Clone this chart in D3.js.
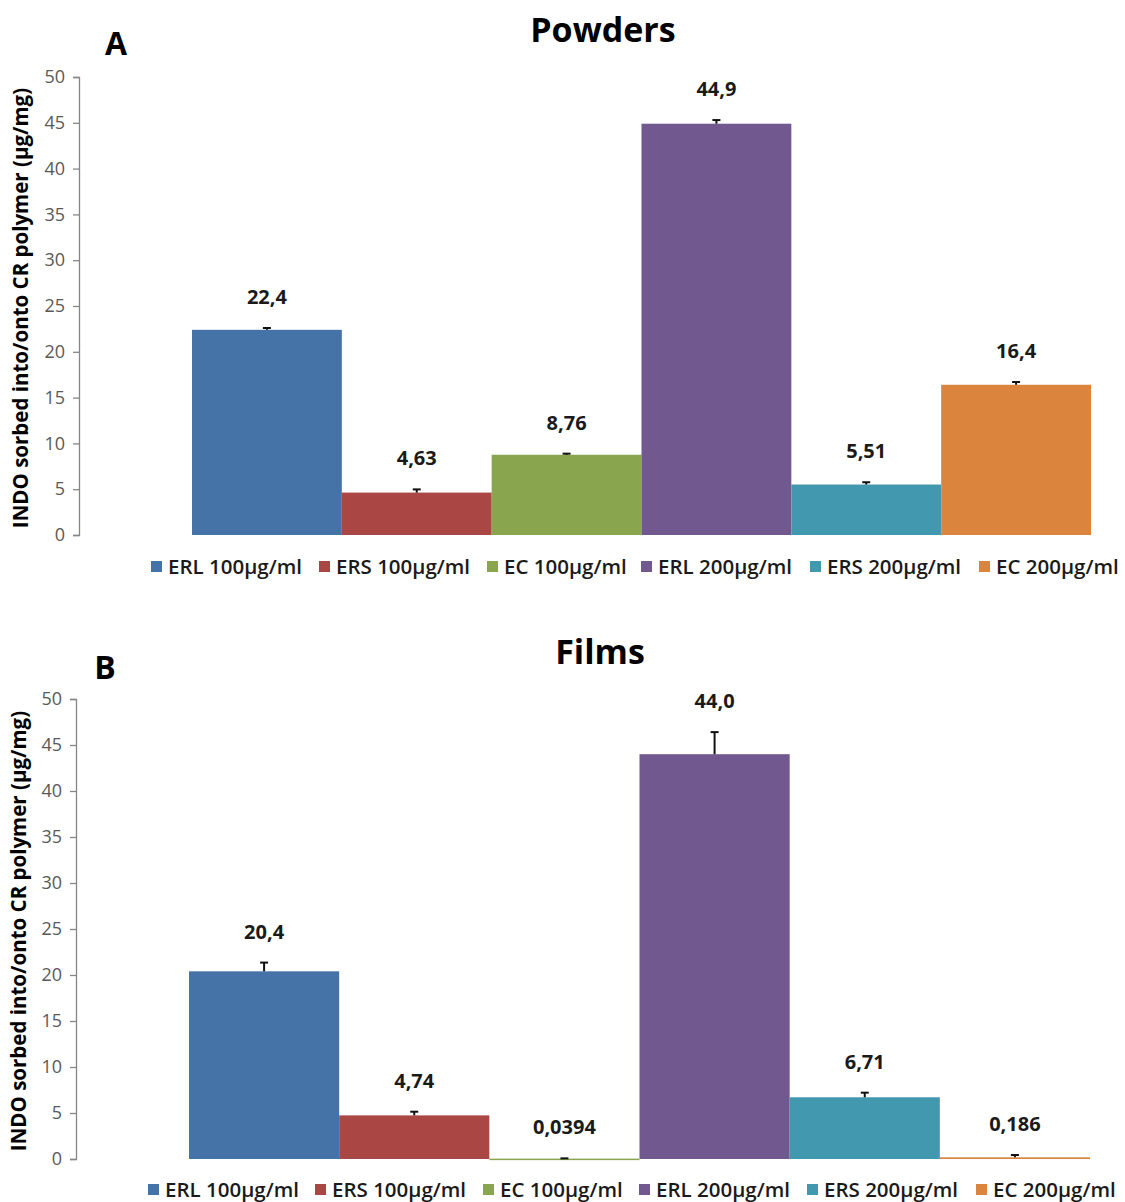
<!doctype html>
<html>
<head>
<meta charset="utf-8">
<style>
  body { margin: 0; background: #fff; }
  text { font-family: "Open Sans", "Noto Sans", sans-serif; }
</style>
</head>
<body>
<div id="container"></div>
<script src="https://cdnjs.cloudflare.com/ajax/libs/d3/7.8.5/d3.min.js"></script>
<script type="text/javascript">

    var series = ["ERL 100µg/ml", "ERS 100µg/ml", "EC 100µg/ml", "ERL 200µg/ml", "ERS 200µg/ml", "EC 200µg/ml"];
    var colors = ["#4572A7", "#AA4643", "#89A54E", "#71588F", "#4198AF", "#DB843D"];
    var yTicks = [0, 5, 10, 15, 20, 25, 30, 35, 40, 45, 50];

    var powderValues = [22.4, 4.63, 8.76, 44.9, 5.51, 16.4];
    var powderErrors = [0.2, 0.35, 0.12, 0.4, 0.25, 0.3];
    var powderLabels = ["22,4", "4,63", "8,76", "44,9", "5,51", "16,4"];

    var filmValues = [20.4, 4.74, 0.0394, 44.0, 6.71, 0.186];
    var filmErrors = [0.95, 0.4, 0.03, 2.4, 0.5, 0.25];
    var filmLabels = ["20,4", "4,74", "0,0394", "44,0", "6,71", "0,186"];

    var ylabel = "INDO sorbed into/onto CR polymer (µg/mg)";

    var svg = d3.select("#container").append("svg")
        .attr("width", 1125)
        .attr("height", 1202);

    function panel(opt) {
        var g = svg.append("g");

        var y_scale = d3.scaleLinear().domain([0, 50]).range([opt.bottom, opt.top]);
        var x_scale = d3.scaleBand().domain(series).range([opt.x0, opt.x1]).padding(0);

        // y axis
        var y_axis = d3.axisLeft(y_scale).tickValues(yTicks).tickSize(6).tickPadding(8);
        var ax = g.append("g")
            .attr("transform", "translate(" + opt.axisX + ",0)")
            .call(y_axis);
        ax.select(".domain").attr("stroke", "#868686").attr("stroke-width", 1.3);
        ax.selectAll(".tick line").attr("stroke", "#868686").attr("stroke-width", 1.3);
        ax.selectAll(".tick text")
            .attr("fill", "#595959")
            .style("font-size", "18px")
            .style("font-family", "'Open Sans', sans-serif");

        // bars
        g.selectAll(".bar").data(opt.values).enter().append("rect")
            .attr("x", function (d, i) { return x_scale(series[i]); })
            .attr("width", x_scale.bandwidth())
            .attr("y", function (d) { return y_scale(d); })
            .attr("height", function (d) { return Math.max(opt.bottom - y_scale(d), 1.5); })
            .attr("fill", function (d, i) { return colors[i]; });

        // error bars (positive only)
        var eb = g.selectAll(".err").data(opt.values).enter().append("g");
        eb.append("line")
            .attr("x1", function (d, i) { return x_scale(series[i]) + x_scale.bandwidth() / 2; })
            .attr("x2", function (d, i) { return x_scale(series[i]) + x_scale.bandwidth() / 2; })
            .attr("y1", function (d) { return y_scale(d); })
            .attr("y2", function (d, i) { return y_scale(d + opt.errors[i]); })
            .attr("stroke", "#111")
            .attr("stroke-width", 2);
        eb.append("line")
            .attr("x1", function (d, i) { return x_scale(series[i]) + x_scale.bandwidth() / 2 - 4; })
            .attr("x2", function (d, i) { return x_scale(series[i]) + x_scale.bandwidth() / 2 + 4; })
            .attr("y1", function (d, i) { return y_scale(d + opt.errors[i]); })
            .attr("y2", function (d, i) { return y_scale(d + opt.errors[i]); })
            .attr("stroke", "#111")
            .attr("stroke-width", 2);

        // value labels
        g.selectAll(".vlab").data(opt.values).enter().append("text")
            .attr("x", function (d, i) { return x_scale(series[i]) + x_scale.bandwidth() / 2; })
            .attr("y", function (d, i) { return y_scale(d + opt.errors[i]) - 24; })
            .attr("text-anchor", "middle")
            .attr("fill", "#1a1a1a")
            .style("font-size", "20px")
            .style("font-weight", "bold")
            .text(function (d, i) { return opt.labels[i]; });

        // titles
        g.append("text")
            .attr("x", opt.titleX).attr("y", opt.titleY)
            .attr("text-anchor", "middle")
            .style("font-size", "34px").style("font-weight", "bold")
            .attr("fill", "#000")
            .text(opt.title);
        g.append("text")
            .attr("x", opt.letterX).attr("y", opt.letterY)
            .attr("text-anchor", "middle")
            .style("font-size", "32px").style("font-weight", "bold")
            .attr("fill", "#000")
            .text(opt.letter);

        // y label
        g.append("text")
            .attr("transform", "translate(" + opt.ylabX + "," + ((opt.top + opt.bottom) / 2 + 2) + ") rotate(-90)")
            .attr("text-anchor", "middle")
            .style("font-size", "20.5px").style("font-weight", "bold")
            .attr("fill", "#000")
            .text(ylabel);

        // legend
        var leg = g.selectAll(".leg").data(series).enter().append("g")
            .attr("transform", function (d, i) { return "translate(" + opt.legendX[i] + "," + opt.legendY + ")"; });
        leg.append("rect")
            .attr("x", 0).attr("y", -6).attr("width", 11).attr("height", 11)
            .attr("fill", function (d, i) { return colors[i]; });
        leg.append("text")
            .attr("x", 17).attr("y", 0).attr("dy", "0.35em")
            .style("font-size", "20.5px").style("font-weight", "600")
            .attr("fill", "#1a1a1a")
            .text(function (d) { return d; });
    }

    panel({
        values: powderValues, errors: powderErrors, labels: powderLabels,
        top: 77, bottom: 535, axisX: 79, x0: 192, x1: 1091,
        title: "Powders", titleX: 603, titleY: 42,
        letter: "A", letterX: 116, letterY: 55, ylabX: 28,
        legendY: 567, legendX: [151, 319, 487, 641, 810, 979]
    });

    panel({
        values: filmValues, errors: filmErrors, labels: filmLabels,
        top: 699, bottom: 1159, axisX: 76, x0: 189, x1: 1090,
        title: "Films", titleX: 600, titleY: 664,
        letter: "B", letterX: 105, letterY: 679, ylabX: 26,
        legendY: 1190, legendX: [148, 315, 483, 639, 807, 976]
    });

</script>
</body>
</html>
